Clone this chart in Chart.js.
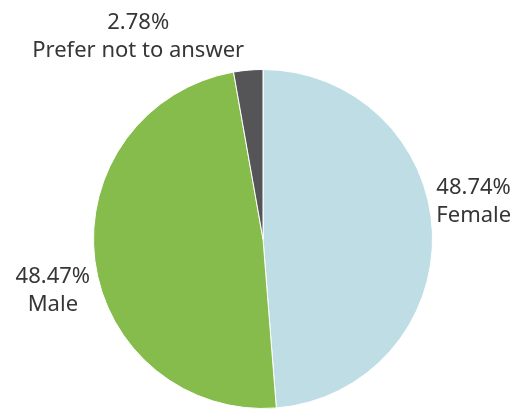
<!DOCTYPE html>
<html>
<head>
<meta charset="utf-8">
<script src="https://cdn.jsdelivr.net/npm/chart.js@4"></script>
<style>
  html, body { margin: 0; padding: 0; background: #fff; }
  #wrap { width: 517px; height: 409px; }
</style>
</head>
<body>
<div id="wrap"><canvas id="chart-1" width="517" height="409"></canvas></div>
<script>
const categories = ["Female", "Male", "Prefer not to answer"];
const shares = [48.74, 48.47, 2.78];
const colors = ["#bfdde4", "#86bc4b", "#555557"];
// label placement relative to the slice's outer mid point
const labelOffsets = [
  { dx: 4, dy: -31, align: "left" },
  { dx: -42, dy: 30, align: "center" },
  { dx: -110, dy: -33, align: "center" },
];

const outsideLabels = {
  id: "outsideLabels",
  afterDraw(chart) {
    const ctx = chart.ctx;
    const meta = chart.getDatasetMeta(0);
    ctx.save();
    ctx.font = "22px 'Noto Sans', sans-serif";
    ctx.fillStyle = "#363636";
    ctx.textBaseline = "middle";
    meta.data.forEach((arc, i) => {
      const p = arc.getProps(["x", "y", "startAngle", "endAngle", "outerRadius"], true);
      const mid = (p.startAngle + p.endAngle) / 2;
      const ox = p.x + Math.cos(mid) * p.outerRadius;
      const oy = p.y + Math.sin(mid) * p.outerRadius;
      const o = labelOffsets[i];
      ctx.textAlign = o.align;
      const x = ox + o.dx;
      const y = oy + o.dy;
      ctx.fillText(shares[i].toFixed(2) + "%", x, y - 14);
      ctx.fillText(categories[i], x, y + 14);
    });
    ctx.restore();
  },
};

const ctx1 = document.getElementById("chart-1").getContext("2d");
const myChart = new Chart(ctx1, {
  type: "pie",
  data: {
    labels: categories,
    datasets: [
      {
        data: shares,
        backgroundColor: colors,
        borderColor: "#ffffff",
        borderWidth: 1,
      },
    ],
  },
  options: {
    responsive: false,
    animation: false,
    layout: { padding: { top: 69, bottom: 0, left: 93, right: 84 } },
    plugins: {
      legend: { display: false },
      tooltip: { enabled: false },
    },
  },
  plugins: [outsideLabels],
});
</script>
</body>
</html>
